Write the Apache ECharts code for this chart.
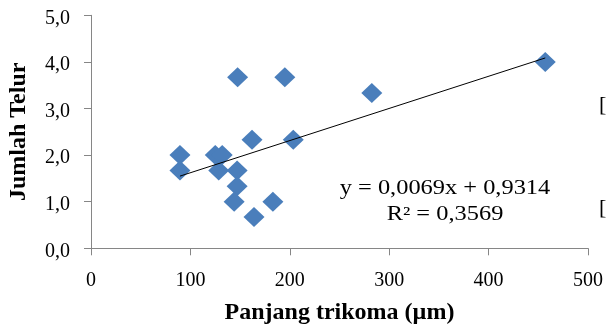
<!DOCTYPE html>
<html>
<head>
<meta charset="utf-8">
<script src="https://cdn.jsdelivr.net/npm/echarts@6/dist/echarts.min.js"></script>
<style>
html,body{margin:0;padding:0;background:#fff;}
#c{width:606px;height:327px;}
</style>
</head>
<body>
<div id="c"></div>
<script>
// Data
const panjangTrikoma = [89.5, 89.5, 125, 132, 128.5, 147, 147, 144, 164, 183, 147.5, 195, 162, 203.5, 282.5, 457];
const jumlahTelur   = [2.0, 1.67, 2.0, 2.0, 1.67, 1.67, 1.33, 1.0, 0.67, 1.0, 3.67, 3.67, 2.33, 2.33, 3.33, 4.0];
const xTicks = [0, 100, 200, 300, 400, 500];
const yTicks = [0, 1, 2, 3, 4, 5];
const slope = 0.0069;
const intercept = 0.9314;
const equationText = 'y = 0,0069x + 0,9314';
const r2Text = 'R² = 0,3569';

const points = panjangTrikoma.map((x, i) => [x, jumlahTelur[i]]);
const xMin = Math.min(...panjangTrikoma), xMax = Math.max(...panjangTrikoma);
const trend = [[xMin, slope * xMin + intercept], [xMax, slope * xMax + intercept]];

const FONT = '"Liberation Serif", "Times New Roman", serif';
const axisColor = '#868686';

const chart = echarts.init(document.getElementById('c'), null, {renderer: 'canvas'});
chart.setOption({
  animation: false,
  backgroundColor: '#fff',
  grid: {left: 91, right: 18, top: 15.3, bottom: 78.7, containLabel: false, outerBoundsMode: 'none'},
  xAxis: {
    type: 'value', min: 0, max: 500, interval: 100,
    name: 'Panjang trikoma (µm)', nameLocation: 'middle', nameGap: 52,
    nameTextStyle: {fontFamily: FONT, fontWeight: 'bold', fontSize: 24, color: '#000'},
    axisLine: {show: true, lineStyle: {color: axisColor, width: 1}},
    axisTick: {show: true, length: 7, lineStyle: {color: axisColor}},
    axisLabel: {fontFamily: FONT, fontSize: 20, color: '#000', margin: 22,
      formatter: v => xTicks.includes(v) ? String(v) : ''},
    splitLine: {show: false}
  },
  yAxis: {
    type: 'value', min: 0, max: 5, interval: 1,
    name: 'Jumlah Telur', nameLocation: 'middle', nameGap: 60, nameRotate: 90,
    nameTextStyle: {fontFamily: FONT, fontWeight: 'bold', fontSize: 24, color: '#000'},
    axisLine: {show: true, lineStyle: {color: axisColor, width: 1}},
    axisTick: {show: true, length: 7, lineStyle: {color: axisColor}},
    axisLabel: {fontFamily: FONT, fontSize: 20, color: '#000', margin: 21,
      verticalAlign: 'top', lineHeight: 6,
      formatter: v => yTicks.includes(v) ? v.toFixed(1).replace('.', ',') : ''},
    splitLine: {show: false}
  },
  series: [
    {
      type: 'scatter', data: points, symbol: 'diamond', symbolSize: [21, 20],
      itemStyle: {color: '#4A7EBB', opacity: 1}, z: 2
    },
    {
      type: 'line', data: trend, symbol: 'none', z: 3,
      lineStyle: {color: '#000', width: 1}
    }
  ],
  graphic: [
    {type: 'text', x: 445, y: 189, scaleX: 1.22, style: {text: equationText, fontFamily: FONT, fontSize: 20, fill: '#000', align: 'center', verticalAlign: 'middle'}},
    {type: 'text', x: 445, y: 215, scaleX: 1.22, style: {text: r2Text, fontFamily: FONT, fontSize: 20, fill: '#000', align: 'center', verticalAlign: 'middle'}},
    {type: 'text', x: 599, y: 105, style: {text: '[', fontFamily: FONT, fontSize: 22, fill: '#000', align: 'left', verticalAlign: 'middle'}},
    {type: 'text', x: 599, y: 208, style: {text: '[', fontFamily: FONT, fontSize: 22, fill: '#000', align: 'left', verticalAlign: 'middle'}}
  ]
});
</script>
</body>
</html>
